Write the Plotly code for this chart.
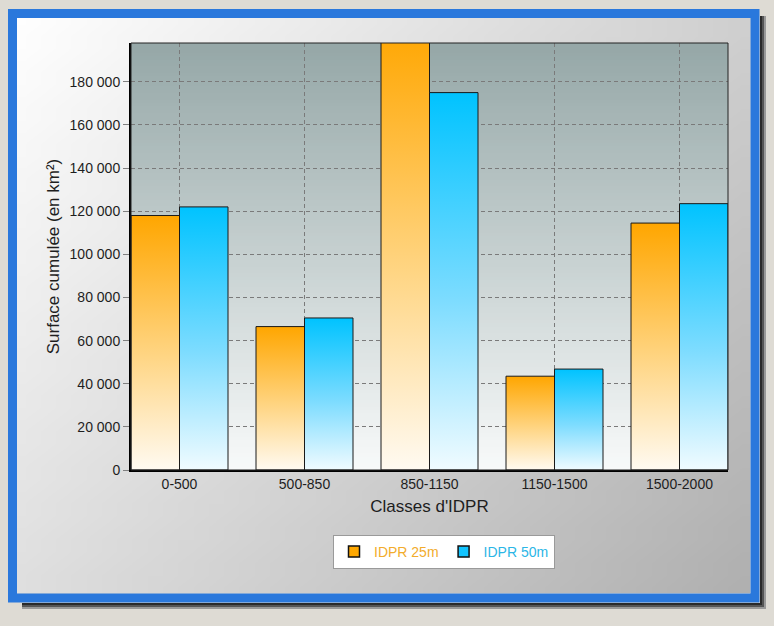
import base64
import struct
import zlib

import plotly.graph_objects as go

# ---------------- data ----------------
categories = ["0-500", "500-850", "850-1150", "1150-1500", "1500-2000"]
idpr_25m = [118000, 66500, 205000, 43500, 114500]
idpr_50m = [122000, 70500, 175000, 46800, 123500]
series_names = ["IDPR 25m", "IDPR 50m"]
y_ticks = [0, 20000, 40000, 60000, 80000, 100000, 120000, 140000, 160000, 180000]
x_title = "Classes d'IDPR"
y_title = "Surface cumulée (en km²)"

# ---------------- geometry / style ----------------
W, H = 774, 626
L, R, T, B = 131, 728, 43, 470
PW, PH = R - L, B - T
BAR_W = 0.388
FONT = "Liberation Sans, Arial, sans-serif"


def px(x):
    return (x - L) / PW


def py(y):
    return (B - y) / PH


def png_uri(w, h, fn):
    raw = bytearray()
    for j in range(h):
        raw.append(0)
        for i in range(w):
            raw.extend(fn(i, j))

    def chunk(tag, data):
        c = struct.pack(">I", len(data)) + tag + data
        return c + struct.pack(">I", zlib.crc32(tag + data) & 0xFFFFFFFF)

    data = (b"\x89PNG\r\n\x1a\n"
            + chunk(b"IHDR", struct.pack(">IIBBBBB", w, h, 8, 2, 0, 0, 0))
            + chunk(b"IDAT", zlib.compress(bytes(raw)))
            + chunk(b"IEND", b""))
    return "data:image/png;base64," + base64.b64encode(data).decode()


def panel_px(i, j):
    t = 0.6 * i / 47 + 0.4 * j / 47
    v = int(round(254 - t * 78))
    return (v, v, v)


def plotbg_px(i, j):
    t = j / 63
    top = (150, 168, 168)
    bot = (248, 250, 250)
    return tuple(int(round(a + (b - a) * t)) for a, b in zip(top, bot))


panel_img = png_uri(48, 48, panel_px)
plot_img = png_uri(1, 64, plotbg_px)

orange_scale = [[0, "#fffaf1"], [0.45, "#ffd583"], [1, "#ffa600"]]
blue_scale = [[0, "#f0fbff"], [0.45, "#7ddcff"], [1, "#00c3ff"]]
series = [
    (idpr_25m, -1, orange_scale, "#ffa800", "#f2ac2c"),
    (idpr_50m, 0, blue_scale, "#12c4ff", "#2cb6e6"),
]

fig = go.Figure()

for k, (vals, off, cscale, solid, txtcol) in enumerate(series):
    for i, v in enumerate(vals):
        x0 = i + off * BAR_W if off < 0 else i
        x1 = x0 + BAR_W
        fig.add_trace(go.Scatter(
            x=[x0, x0, x1, x1, x0], y=[0, v, v, 0, 0],
            mode="lines", fill="toself",
            fillgradient=dict(type="vertical", colorscale=cscale),
            line=dict(color="#1a1a1a", width=1),
            showlegend=False, hoverinfo="skip",
        ))
    fig.add_trace(go.Scatter(
        x=[None], y=[None], mode="markers",
        marker=dict(symbol="square", size=11, color=solid,
                    line=dict(color="#111", width=1.5)),
        name=f"<span style='color:{txtcol}'>{series_names[k]}</span>",
    ))

shapes = []
# shadow
for n, col in enumerate(["#2a2a2a", "#555555", "#999999"]):
    shapes.append(dict(type="rect", xref="paper", yref="paper", layer="below",
                       x0=px(760 + 2 * n), x1=px(762 + 2 * n), y0=py(16), y1=py(609),
                       fillcolor=col, line=dict(width=0)))
    shapes.append(dict(type="rect", xref="paper", yref="paper", layer="below",
                       x0=px(22), x1=px(766), y0=py(603 + 2 * n), y1=py(605 + 2 * n),
                       fillcolor=col, line=dict(width=0)))
# blue frame
shapes.append(dict(type="rect", xref="paper", yref="paper", layer="below",
                   x0=px(12.5), x1=px(755), y0=py(13.5), y1=py(598),
                   fillcolor="rgba(0,0,0,0)", line=dict(color="#2a78dc", width=9)))
# plot frame (top / right thin)
shapes.append(dict(type="rect", xref="x domain", yref="y domain", layer="above",
                   x0=0, x1=1, y0=0, y1=1, line=dict(color="#222", width=1)))

images = [
    dict(source=panel_img, xref="paper", yref="paper", x=px(17), y=py(18),
         sizex=(750 - 17) / PW, sizey=(593 - 18) / PH, sizing="stretch",
         xanchor="left", yanchor="top", layer="below"),
    dict(source=plot_img, xref="x domain", yref="y domain", x=0, y=1,
         sizex=1, sizey=1, sizing="stretch", xanchor="left", yanchor="top",
         layer="below"),
]

fig.update_layout(
    width=W, height=H, autosize=False,
    margin=dict(l=L, r=W - R, t=T, b=H - B),
    paper_bgcolor="#dedbd4", plot_bgcolor="rgba(0,0,0,0)",
    font=dict(family=FONT, size=14, color="#1e1e1e"),
    separators=", ",
    shapes=shapes, images=images,
    showlegend=True,
    legend=dict(orientation="h", x=px(444), y=py(535), xanchor="center", yanchor="top",
                bgcolor="white", bordercolor="#9a9a9a", borderwidth=1,
                font=dict(family=FONT, size=14), itemwidth=30, tracegroupgap=0),
    xaxis=dict(range=[-BAR_W, len(categories) - 1 + BAR_W],
               tickmode="array", tickvals=list(range(len(categories))), ticktext=categories,
               showgrid=True, gridcolor="#7a7a7a", gridwidth=1, griddash="4px,3px",
               showline=True, linecolor="black", linewidth=2, zeroline=False,
               ticks="", tickfont=dict(size=14),
               title=dict(text=x_title, font=dict(size=17), standoff=9)),
    yaxis=dict(range=[0, 198000], tickmode="array", tickvals=y_ticks, tickformat=",d",
               showgrid=True, gridcolor="#7a7a7a", gridwidth=1, griddash="4px,3px",
               showline=True, linecolor="black", linewidth=2, zeroline=False,
               ticks="outside", ticklen=6, tickcolor="#808080", tickfont=dict(size=14),
               title=dict(text=y_title, font=dict(size=17), standoff=6)),
)

fig.write_html("out.html")
